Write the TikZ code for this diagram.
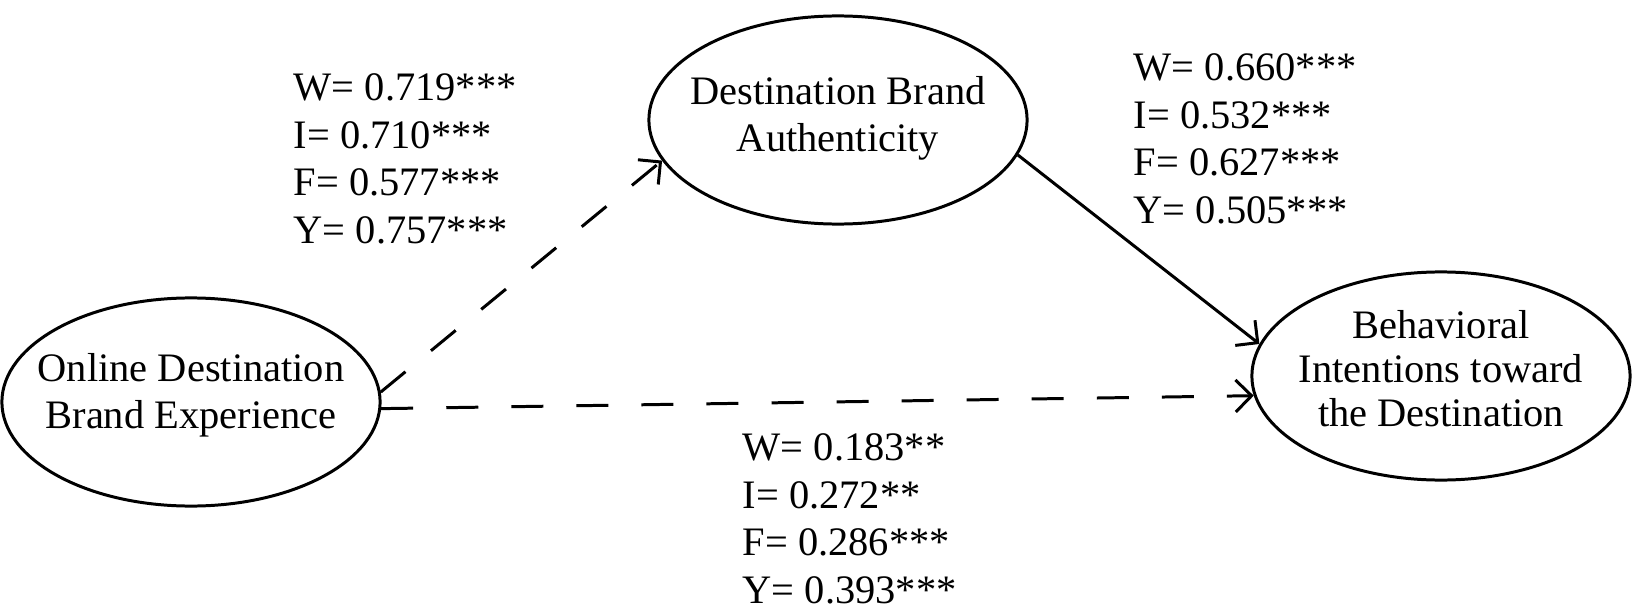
\documentclass[tikz,border=0pt]{standalone}
\usepackage{fontspec}
\setmainfont{Liberation Serif}
\usetikzlibrary{shapes.geometric,arrows.meta}
\begin{document}
\begin{tikzpicture}[x=0.01cm, y=-0.01cm,
        construct/.style={ellipse, draw, line width=0.85pt, minimum width=3.78cm, minimum height=2.08cm,
            inner xsep=-0.5cm, inner ysep=-0.5cm, align=center, font=\fontsize{11.5}{13.4}\selectfont},
        coef/.style={anchor=north west, inner sep=0pt, align=left, font=\fontsize{11.5}{13.5}\selectfont},
        effect/.style={line width=0.85pt, -{Straight Barb[length=1.6mm, width=3.2mm]}},
        weak/.style={effect, dash pattern=on 9.1pt off 9.4pt}]
    \useasboundingbox (0,0) rectangle (1632,612);

    \node[construct, text depth=6.5pt] (obe) at (191,402) {Online Destination\\Brand Experience};
    \node[construct, text depth=3.5pt] (dba) at (838,120) {Destination Brand\\Authenticity};
    \node[construct, text depth=4.2pt, font=\fontsize{11.5}{12.6}\selectfont] (bid) at (1441,376)
        {Behavioral\\Intentions toward\\the Destination};

    \draw[weak] (obe.3) -- (dba.193);
    \draw[weak] (obe.358) -- (bid.186);
    \draw[effect] (dba.349) -- (bid.170);

    \node[coef] (c1) at (293,73) {W= 0.719***\\I= 0.710***\\F= 0.577***\\Y= 0.757***};
    \node[coef] (c2) at (1133,53) {W= 0.660***\\I= 0.532***\\F= 0.627***\\Y= 0.505***};
    \node[coef] (c3) at (742,433) {W= 0.183**\\I= 0.272**\\F= 0.286***\\Y= 0.393***};
\end{tikzpicture}
\end{document}
